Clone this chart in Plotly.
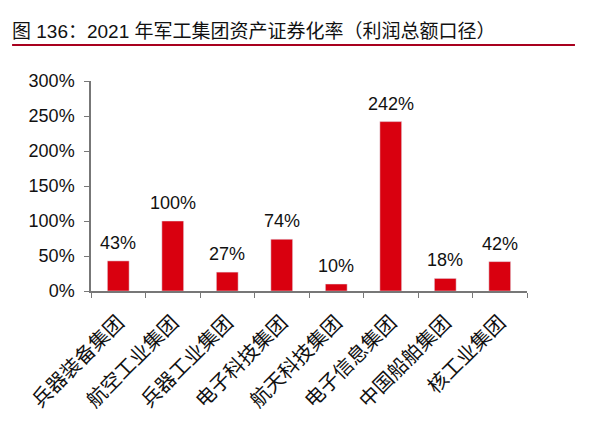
import plotly.graph_objects as go

groups = ["兵器装备集团", "航空工业集团", "兵器工业集团", "电子科技集团",
          "航天科技集团", "电子信息集团", "中国船舶集团", "核工业集团"]
ratio = [43, 100, 27, 74, 10, 242, 18, 42]
labels = [f"{v}%" for v in ratio]

fig = go.Figure(go.Bar(
    x=groups, y=ratio, marker_color="#D9000F", width=0.4,
))

# value labels sit a little higher than plotly's own outside text
for g, v, t in zip(groups, ratio, labels):
    fig.add_annotation(x=g, y=v, text=t, showarrow=False,
                       yanchor="bottom", yshift=6,
                       font=dict(size=18, color="#111",
                                 family="Liberation Sans, Arial"))

# page body has an 8px margin, so the figure is a bit smaller than the window
fig.update_layout(
    width=591, height=414,
    margin=dict(l=83, r=72, t=73, b=131, autoexpand=False),
    paper_bgcolor="white", plot_bgcolor="white",
    showlegend=False,
    font=dict(family="Liberation Sans, Noto Sans CJK SC", color="#111"),
)
fig.update_yaxes(
    range=[0, 300], dtick=50, ticksuffix="%", automargin=False,
    showgrid=False, showline=True, linecolor="#777", linewidth=1.5,
    ticks="outside", ticklen=5, tickcolor="#777", ticklabelstandoff=6,
    tickfont=dict(size=18, family="Liberation Sans, Arial"),
)
fig.update_xaxes(
    automargin=False,
    showgrid=False, showline=True, linecolor="#777", linewidth=1.5,
    ticks="outside", tickson="boundaries", ticklen=5, tickcolor="#777",
    ticklabelstandoff=10,
    tickangle=-45, tickfont=dict(size=20, family="Noto Sans CJK SC"),
)

# caption and red rule on top
fig.add_annotation(
    text="图 136：2021 年军工集团资产证券化率（利润总额口径）",
    xref="paper", yref="paper", x=-0.185, y=1.175,
    xanchor="left", yanchor="bottom", showarrow=False,
    font=dict(size=19, family="Liberation Sans, Noto Sans CJK SC", color="#111"),
)
fig.add_shape(type="line", xref="paper", yref="paper",
              x0=-0.181, x1=1.11, y0=1.171, y1=1.171,
              line=dict(color="#A8001E", width=2))

fig.write_html("out.html")
